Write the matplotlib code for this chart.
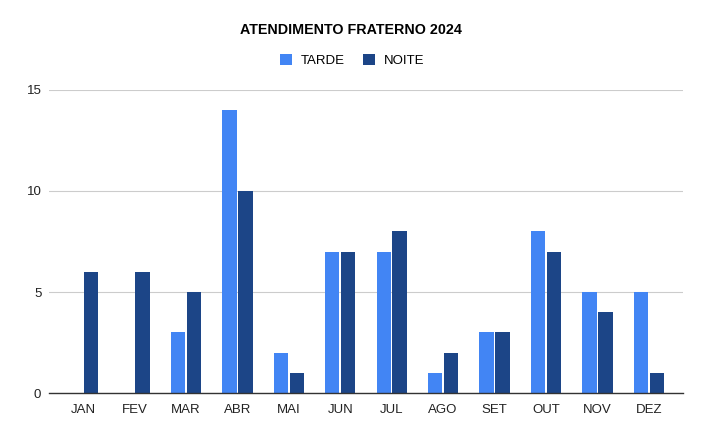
import numpy as np
import matplotlib
matplotlib.use("Agg")
import matplotlib.pyplot as plt

plt.rcParams['font.family'] = ['Liberation Sans', 'DejaVu Sans']

months = ["JAN", "FEV", "MAR", "ABR", "MAI", "JUN", "JUL", "AGO", "SET", "OUT", "NOV", "DEZ"]
tarde = [0, 0, 3, 14, 2, 7, 7, 1, 3, 8, 5, 5]
noite = [6, 6, 5, 10, 1, 7, 8, 2, 3, 7, 4, 1]

c_tarde = "#4285f4"
c_noite = "#1c4587"

fig = plt.figure(figsize=(7.07, 4.36), dpi=100)
ax = fig.add_axes([0.0693, 0.0986, 0.8967, 0.695])

x = np.arange(len(months))
w = 0.28
off = 0.155
ax.bar(x - off, tarde, width=w, color=c_tarde, label="TARDE", zorder=3)
ax.bar(x + off, noite, width=w, color=c_noite, label="NOITE", zorder=3)

ax.set_xlim(-0.665, len(months) - 1 + 0.665)
ax.set_ylim(0, 15)
ax.set_yticks([0, 5, 10, 15])
ax.set_xticks(x)
ax.set_xticklabels(months)
ax.tick_params(axis='both', length=0, labelsize=9.5, colors="#222222")
ax.tick_params(axis='x', pad=8)
ax.tick_params(axis='y', pad=5.5)
ax.yaxis.grid(True, color="#cccccc", linewidth=0.8, zorder=0)
for s in ["top", "right", "left"]:
    ax.spines[s].set_visible(False)
ax.spines["bottom"].set_color("#333333")
ax.spines["bottom"].set_linewidth(1.0)
ax.spines["bottom"].set_zorder(4)

fig.text(0.496, 0.931, "ATENDIMENTO FRATERNO 2024", ha="center", va="center",
         fontsize=10.3, fontweight="bold", color="#000000")
fig.legend(loc="center", bbox_to_anchor=(0.498, 0.861), ncol=2, frameon=False,
           fontsize=9.5, handlelength=0.9, handleheight=0.9, columnspacing=1.4,
           handletextpad=0.65)

fig.savefig("out.png", dpi=100)
